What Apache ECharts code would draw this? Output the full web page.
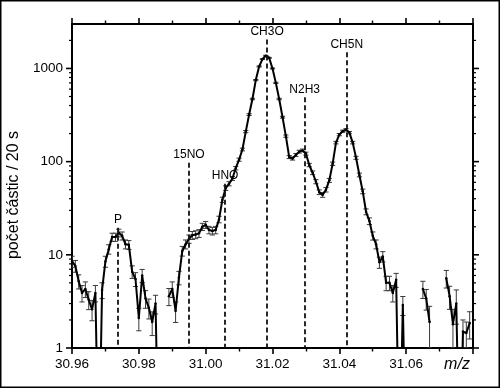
<!DOCTYPE html>
<html>
<head>
<meta charset="utf-8">
<script src="https://cdn.jsdelivr.net/npm/echarts@6/dist/echarts.min.js"></script>
<style>
  html, body { margin: 0; padding: 0; background: #fff; }
  #chart { width: 500px; height: 388px; }
</style>
</head>
<body>
<div id="chart"></div>
<script>
// m/z of each measured point
const mz = [
  30.960, 30.961, 30.962, 30.963, 30.964, 30.965, 30.966, 30.967, 30.968, 30.969,
  30.970, 30.971, 30.972, 30.973, 30.974, 30.975, 30.976, 30.977, 30.978, 30.979,
  30.980, 30.981, 30.982, 30.983, 30.984, 30.985, 30.986, 30.987, 30.988, 30.989,
  30.990, 30.991, 30.992, 30.993, 30.994, 30.995, 30.996, 30.997, 30.998, 30.999,
  31.000, 31.001, 31.002, 31.003, 31.004, 31.005, 31.006, 31.007, 31.008, 31.009,
  31.010, 31.011, 31.012, 31.013, 31.014, 31.015, 31.016, 31.017, 31.018, 31.019,
  31.020, 31.021, 31.022, 31.023, 31.024, 31.025, 31.026, 31.027, 31.028, 31.029,
  31.030, 31.031, 31.032, 31.033, 31.034, 31.035, 31.036, 31.037, 31.038, 31.039,
  31.040, 31.041, 31.042, 31.043, 31.044, 31.045, 31.046, 31.047, 31.048, 31.049,
  31.050, 31.051, 31.052, 31.053, 31.054, 31.055, 31.056, 31.057, 31.058, 31.059,
  31.060, 31.061, 31.062, 31.063, 31.064, 31.065, 31.066, 31.067, 31.068, 31.069,
  31.070, 31.071, 31.072, 31.073, 31.074, 31.075, 31.076, 31.077, 31.078, 31.079
];

// counts / 20 s (0 = no counts, null = no data)
const counts = [
  8.5, 7.6, 5.2, 3.9, 4.3, 3.3, 2.6, 3.9, 0, 4.2,
  8.5, 11.5, 15.5, 15.5, 17.2, 16.0, 13.0, 12.8, 6.6, 5.5,
  2.1, 6.0, 3.4, 2.7, 1.9, 3.0, 0, null, null, 3.6,
  4.3, 2.5, 5.7, 11, 13, 14.8, 16.2, 16.5, 17, 20,
  21, 18.5, 18, 18.5, 24, 39, 52, 58, 66, 85,
  105, 135, 210, 320, 470, 750, 1050, 1260, 1370, 1300,
  1000, 700, 470, 300, 188, 112, 108, 118, 128, 132,
  122, 92, 76, 61, 47, 44, 50, 63, 95, 160,
  195, 212, 220, 205, 160, 110, 72, 48, 29, 23,
  16, 13, 8.3, 9.6, 5.0, 5.0, 3.9, 5.4, 0, 2.9,
  0, null, null, null, null, 4.3, 3.4, 1.9, null, null,
  null, null, 5.6, 3.6, 1.8, 3.0, 0, 1.5, 1.45, 1.85
];

// error bar half-widths
const errors = [
  1.15, 1.1, 0.9, 0.78, 0.82, 0.72, 0.64, 0.78, 0, 0.81,
  1.15, 1.34, 1.56, 1.56, 1.64, 1.58, 1.43, 1.41, 1.02, 0.93,
  0.57, 0.97, 0.73, 0.65, 0.54, 0.68, 0, 0, 0, 0.75,
  0.82, 0.62, 0.94, 1.31, 1.43, 1.52, 1.59, 1.61, 1.63, 1.77,
  1.81, 1.7, 1.68, 1.7, 1.94, 2.47, 2.85, 3.0, 3.2, 3.6,
  4.05, 4.6, 5.7, 7.1, 8.6, 10.8, 12.8, 14.0, 14.6, 14.3,
  12.5, 10.5, 8.6, 6.8, 5.4, 4.2, 4.1, 4.3, 4.5, 4.5,
  4.4, 3.8, 3.4, 3.1, 2.7, 2.6, 2.8, 3.1, 3.9, 5.0,
  5.5, 5.8, 5.9, 5.7, 5.0, 4.1, 3.35, 2.74, 2.1, 1.9,
  1.6, 1.43, 1.14, 1.22, 0.88, 0.88, 0.78, 0.92, 0, 0.67,
  0, 0, 0, 0, 0, 0.9, 0.85, 0.9, 0, 0,
  0, 0, 1.2, 1.0, 0.8, 1.2, 0, 0.5, 0.45, 0.6
];

const peakNames = ["P", "15NO", "HNO", "CH3O", "N2H3", "CH5N"];
const peakMz = [30.97376, 30.99502, 31.00581, 31.01839, 31.02963, 31.04222];
const peakTop = [19.5, 97, 58, 2050, 490, 1490];

const yMajorTicks = [1, 10, 100, 1000];
const yMinorTicks = [
  2, 3, 4, 5, 6, 7, 8, 9,
  20, 30, 40, 50, 60, 70, 80, 90,
  200, 300, 400, 500, 600, 700, 800, 900,
  2000
];

const X_MIN = 30.96;
const X_MAX = 31.08;
const Y_MIN = 1;
const Y_MAX = 3000;
const ZERO_FLOOR = 0.05; // zero counts drawn below the log axis

const FONT = "Liberation Sans, Arial, sans-serif";

const lineData = mz.map((x, i) => {
  const c = counts[i];
  if (c === null) return [x, "-"];
  return [x, c === 0 ? ZERO_FLOOR : c];
});

const errData = [];
mz.forEach((x, i) => {
  const c = counts[i];
  if (c && errors[i] > 0) {
    errData.push([x, Math.max(c - errors[i], 0.3), c + errors[i]]);
  }
});

const tickData = yMajorTicks
  .map((v) => [X_MIN, v, 1])
  .concat(yMinorTicks.map((v) => [X_MIN, v, 0]));

const renderErr = (params, api) => {
  const x = api.value(0);
  const top = api.coord([x, api.value(2)]);
  const bot = api.coord([x, api.value(1)]);
  const w = 2.6;
  const style = { stroke: "#3a3a3a", lineWidth: 1 };
  return {
    type: "group",
    children: [
      { type: "line", shape: { x1: top[0], y1: top[1], x2: bot[0], y2: bot[1] }, style },
      { type: "line", shape: { x1: top[0] - w, y1: top[1], x2: top[0] + w, y2: top[1] }, style },
      { type: "line", shape: { x1: bot[0] - w, y1: bot[1], x2: bot[0] + w, y2: bot[1] }, style },
    ],
  };
};

// log ticks on left and right axes (major 1,10,.. and minor 2..9)
const renderTicks = (params, api) => {
  const v = api.value(1);
  const major = api.value(2) === 1;
  const len = major ? 6 : 3;
  const l = api.coord([X_MIN, v]);
  const r = api.coord([X_MAX, v]);
  const style = { stroke: "#000", lineWidth: major ? 1.6 : 1.2 };
  return {
    type: "group",
    children: [
      { type: "line", shape: { x1: l[0] - len, y1: l[1], x2: l[0], y2: l[1] }, style },
      { type: "line", shape: { x1: r[0], y1: r[1], x2: r[0] + len, y2: r[1] }, style },
    ],
  };
};

const peakLines = peakNames.map((name, i) => [
  { name: name, coord: [peakMz[i], peakTop[i]] },
  { coord: [peakMz[i], Y_MIN] },
]);

const axisLine = { show: true, lineStyle: { color: "#000", width: 2 } };

const chart = echarts.init(document.getElementById("chart"), null, { renderer: "canvas" });

const options = {
  animation: false,
  backgroundColor: "#fff",
  textStyle: { fontFamily: FONT },
  grid: { left: 72, right: 27, top: 24, bottom: 40, containLabel: false, outerBoundsMode: "none" },
  graphic: [
    {
      type: "rect",
      shape: { x: 0.75, y: 0.75, width: 498.5, height: 386.5 },
      style: { fill: "none", stroke: "#000", lineWidth: 1.5 },
      silent: true,
    },
  ],
  xAxis: [
    {
      type: "value",
      position: "bottom",
      min: X_MIN,
      max: X_MAX,
      interval: 0.02,
      axisLine: axisLine,
      axisTick: { show: true, length: 6, lineStyle: { color: "#000", width: 1.6 } },
      minorTick: { show: true, splitNumber: 2, length: 3.5, lineStyle: { color: "#000", width: 1.4 } },
      splitLine: { show: false },
      axisLabel: {
        margin: 9,
        color: "#000",
        fontSize: 13.5,
        fontFamily: FONT,
        formatter: (v) => (Math.abs(v - X_MAX) < 1e-6 ? "{mz|m/z}" : v.toFixed(2)),
        rich: {
          mz: { fontStyle: "italic", fontSize: 16, fontFamily: FONT, color: "#000", padding: [0, 32, 0, 0] },
        },
      },
    },
    {
      type: "value",
      position: "top",
      min: X_MIN,
      max: X_MAX,
      interval: 0.02,
      axisLine: axisLine,
      axisTick: { show: true, length: 6, lineStyle: { color: "#000", width: 1.6 } },
      minorTick: { show: true, splitNumber: 2, length: 3.5, lineStyle: { color: "#000", width: 1.4 } },
      splitLine: { show: false },
      axisLabel: { show: false },
    },
  ],
  yAxis: [
    {
      type: "log",
      logBase: 10,
      position: "left",
      min: Y_MIN,
      max: Y_MAX,
      axisLine: axisLine,
      axisTick: { show: false },
      splitLine: { show: false },
      axisLabel: {
        margin: 9,
        color: "#000",
        fontSize: 13.5,
        fontFamily: FONT,
        showMaxLabel: false,
        formatter: (v) => String(Math.round(v)),
      },
      name: "počet částic / 20 s",
      nameLocation: "middle",
      nameGap: 37,
      nameTextStyle: { fontSize: 16, color: "#000", fontFamily: FONT, padding: [0, 18, 0, 0] },
    },
    {
      type: "log",
      logBase: 10,
      position: "right",
      min: Y_MIN,
      max: Y_MAX,
      axisLine: axisLine,
      axisTick: { show: false },
      splitLine: { show: false },
      axisLabel: { show: false },
    },
  ],
  series: [
    {
      type: "custom",
      name: "errors",
      renderItem: renderErr,
      data: errData,
      clip: true,
      z: 2,
      silent: true,
    },
    {
      type: "line",
      name: "counts",
      data: lineData,
      connectNulls: false,
      clip: true,
      symbol: "circle",
      symbolSize: 2.5,
      showSymbol: true,
      itemStyle: { color: "#000" },
      lineStyle: { color: "#000", width: 2 },
      z: 3,
      markLine: {
        silent: true,
        symbol: "none",
        animation: false,
        lineStyle: { color: "#111", width: 1.8, type: [5, 3] },
        label: {
          show: true,
          position: "start",
          distance: 2,
          formatter: "{b}",
          color: "#000",
          fontSize: 12,
          fontFamily: FONT,
        },
        emphasis: { disabled: true },
        data: peakLines,
      },
    },
    {
      type: "custom",
      name: "yticks",
      renderItem: renderTicks,
      data: tickData,
      clip: false,
      silent: true,
      z: 4,
    },
  ],
};

chart.setOption(options);
</script>
</body>
</html>
